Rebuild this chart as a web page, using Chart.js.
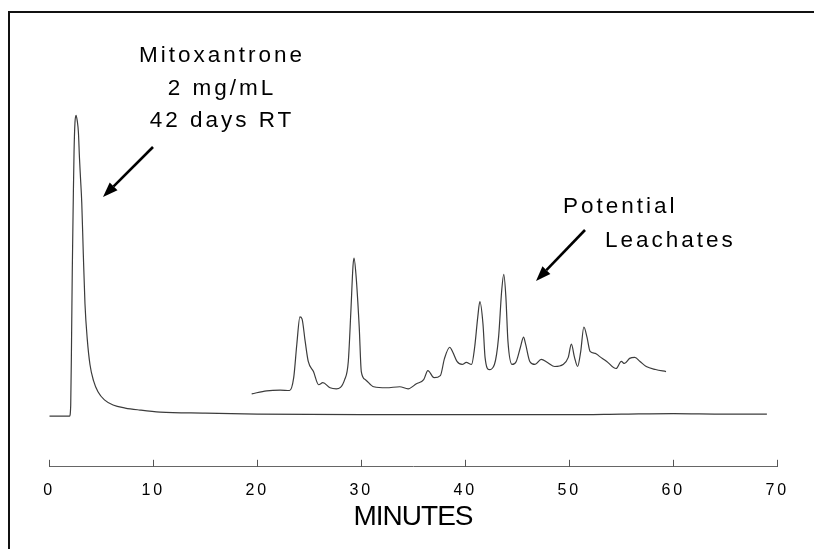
<!DOCTYPE html>
<html lang="en">
<head>
    <meta charset="UTF-8">
    <title>Mitoxantrone chromatogram</title>
    <script src="https://cdn.jsdelivr.net/npm/chart.js"></script>
    <style>
        body { margin: 0; background: #fff; }
        #wrap { width: 814px; height: 549px; position: relative; }
    </style>
</head>
<body>
    <div id="wrap">
        <canvas id="chrom" width="814" height="549"></canvas>
    </div>

    <script>
        // Main trace (mitoxantrone peak), minutes vs detector signal (arbitrary units)
        const mainTime = [0, 1.95, 2.06, 2.14, 2.21, 2.3, 2.38, 2.47, 2.57, 2.68, 2.8, 2.9, 3.0, 3.12, 3.27, 3.43, 3.65, 3.91, 4.25, 4.68, 5.3, 6.13, 7.3, 8.72, 10.65, 15, 20, 30, 40, 50, 55, 60, 65, 69];
        const mainSignal = [0, 0, 11, 75, 144, 210, 261, 290, 297, 292, 280, 255, 235, 211, 160, 111, 76, 51, 35, 24, 16, 11, 8, 6, 4, 3, 2, 1.5, 1.5, 1.5, 2, 2.5, 2, 2];

        // Offset trace (potential leachates)
        const leachTime = [19.46, 20.9, 22.2, 23.1, 23.5, 23.8, 24.1, 24.3, 24.6, 24.9, 25.4, 25.9, 26.3, 27.0, 27.6, 28.4, 28.75, 29.0, 29.2, 29.3, 29.5, 29.8, 30.0, 30.4, 31.2, 32.4, 33.7, 34.5, 35.3, 36.0, 36.4, 37.0, 37.6, 38.0, 38.5, 38.8, 39.2, 39.7, 40.1, 40.6, 40.9, 41.2, 41.4, 41.7, 41.9, 42.3, 42.8, 43.2, 43.5, 43.7, 43.9, 44.1, 44.5, 44.9, 45.3, 45.6, 45.8, 46.2, 46.7, 47.3, 47.9, 48.6, 49.4, 49.9, 50.2, 50.5, 50.8, 51.1, 51.4, 51.7, 52.0, 52.5, 52.9, 53.6, 54.5, 55.0, 55.3, 55.8, 56.3, 56.8, 57.4, 58.3, 59.3];
        const leachSignal = [22, 25, 25.7, 25.3, 38, 71, 98, 96, 74, 54, 44, 31, 33, 28, 27, 36, 54, 104, 148, 156, 138, 88, 44, 36, 29, 28, 29, 27, 32, 36, 45, 38, 40, 57, 68, 63, 54, 51, 53, 51, 68, 98, 113, 91, 58, 46, 51, 78, 124, 140, 118, 74, 51, 54, 68, 78, 71, 54, 51, 56, 53, 49, 51, 58, 71, 58, 49, 64, 88, 78, 64, 62, 59, 54, 47, 54, 52, 57, 58, 54, 49, 46, 44];

        const xTicks = [0, 10, 20, 30, 40, 50, 60, 70];

        const FONT = "'Liberation Sans', Arial, Helvetica, sans-serif";

        function toPoints(xs, ys) {
            return xs.map((x, i) => ({ x: x, y: ys[i] }));
        }

        // Frame, upward tick marks, annotations and arrows
        const decorPlugin = {
            id: 'decor',
            beforeDraw(chart) {
                chart.ctx.letterSpacing = '3px';
            },
            afterDraw(chart) {
                const ctx = chart.ctx;
                const xs = chart.scales.x;
                const bottom = chart.chartArea.bottom;
                ctx.save();

                // tick marks pointing up from the axis line
                ctx.strokeStyle = '#555';
                ctx.lineWidth = 1;
                xTicks.forEach(v => {
                    const px = Math.round(xs.getPixelForValue(v)) + 0.5;
                    ctx.beginPath();
                    ctx.moveTo(px, bottom);
                    ctx.lineTo(px, bottom - 7);
                    ctx.stroke();
                });

                // frame (top and left edges)
                ctx.strokeStyle = '#111';
                ctx.lineWidth = 2;
                ctx.beginPath();
                ctx.moveTo(9, 549);
                ctx.lineTo(9, 12);
                ctx.lineTo(814, 12);
                ctx.stroke();

                // annotation text
                ctx.fillStyle = '#000';
                ctx.textBaseline = 'alphabetic';
                ctx.font = '22.5px ' + FONT;
                ctx.letterSpacing = '3px';
                ctx.textAlign = 'center';
                ctx.fillText('Mitoxantrone', 222, 62);
                ctx.fillText('2 mg/mL', 222, 95);
                ctx.fillText('42 days RT', 222, 127);
                ctx.textAlign = 'left';
                ctx.fillText('Potential', 563, 213);
                ctx.fillText('Leachates', 605, 247);

                ctx.font = '28px ' + FONT;
                ctx.letterSpacing = '-1px';
                ctx.textAlign = 'center';
                ctx.fillText('MINUTES', 413, 525);
                ctx.letterSpacing = '0px';

                // arrows
                drawArrow(ctx, 153, 147, 103, 197);
                drawArrow(ctx, 585, 230, 536, 281);

                ctx.restore();
            }
        };

        function drawArrow(ctx, x1, y1, x2, y2) {
            const ang = Math.atan2(y2 - y1, x2 - x1);
            const len = 15, half = 5.5;
            const bx = x2 - len * Math.cos(ang), by = y2 - len * Math.sin(ang);
            ctx.strokeStyle = '#000';
            ctx.fillStyle = '#000';
            ctx.lineWidth = 2.6;
            ctx.beginPath();
            ctx.moveTo(x1, y1);
            ctx.lineTo(bx, by);
            ctx.stroke();
            ctx.beginPath();
            ctx.moveTo(x2, y2);
            ctx.lineTo(bx + half * Math.sin(ang), by - half * Math.cos(ang));
            ctx.lineTo(bx - half * Math.sin(ang), by + half * Math.cos(ang));
            ctx.closePath();
            ctx.fill();
        }

        const ctx = document.getElementById('chrom').getContext('2d');
        new Chart(ctx, {
            type: 'line',
            data: {
                datasets: [
                    {
                        label: 'Mitoxantrone',
                        data: toPoints(mainTime, mainSignal),
                        borderColor: '#3c3c3c',
                        borderWidth: 1.2,
                        pointRadius: 0,
                        cubicInterpolationMode: 'monotone',
                        fill: false
                    },
                    {
                        label: 'Potential Leachates',
                        data: toPoints(leachTime, leachSignal),
                        borderColor: '#3c3c3c',
                        borderWidth: 1.2,
                        pointRadius: 0,
                        cubicInterpolationMode: 'monotone',
                        fill: false
                    }
                ]
            },
            options: {
                responsive: false,
                animation: false,
                layout: {
                    padding: { left: 49.3, right: 36.7, top: 20, bottom: 35 }
                },
                plugins: {
                    legend: { display: false },
                    tooltip: { enabled: false }
                },
                scales: {
                    x: {
                        type: 'linear',
                        min: 0,
                        max: 70,
                        afterBuildTicks(scale) {
                            scale.ticks = xTicks.map(v => ({ value: v }));
                        },
                        grid: { display: false, drawTicks: false },
                        border: { display: true, color: '#666', width: 1 },
                        ticks: {
                            padding: 14,
                            maxRotation: 0,
                            color: '#000',
                            font: { family: FONT, size: 16 }
                        }
                    },
                    y: {
                        display: false,
                        min: -50,
                        max: 391
                    }
                }
            },
            plugins: [decorPlugin]
        });
    </script>
</body>
</html>
